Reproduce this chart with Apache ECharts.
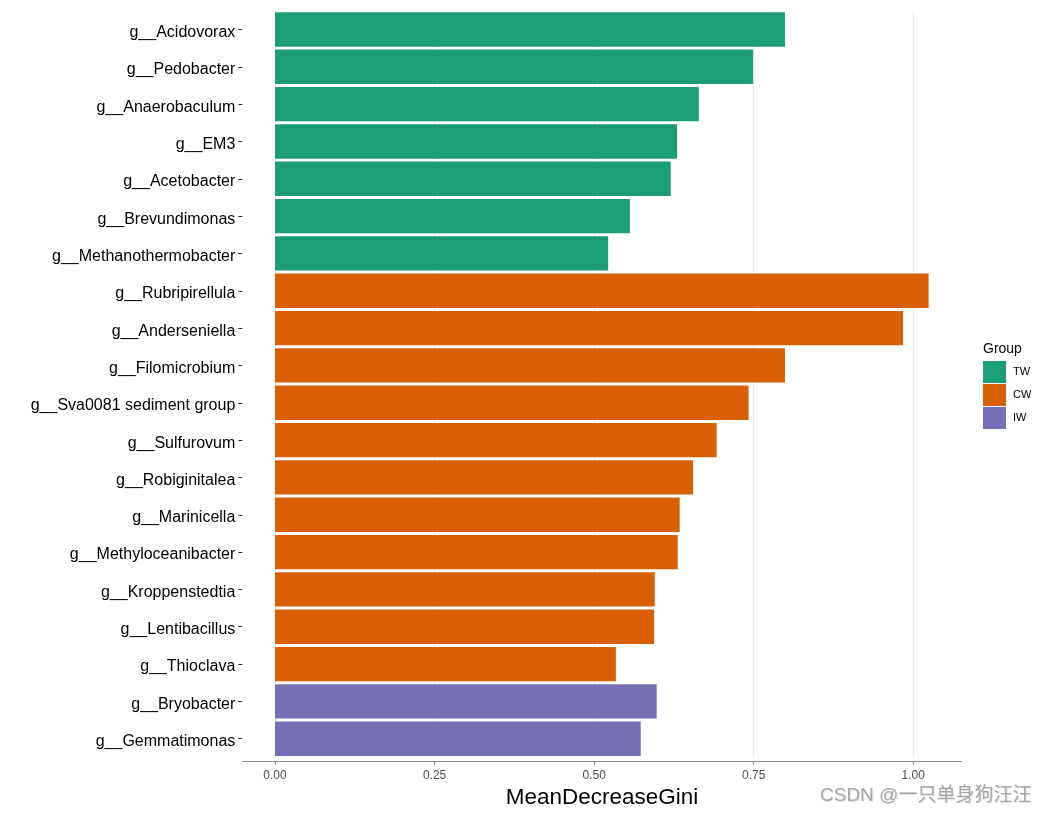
<!DOCTYPE html>
<html>
<head>
<meta charset="utf-8">
<script src="https://cdn.jsdelivr.net/npm/echarts@6/dist/echarts.min.js"></script>
<style>html,body{margin:0;padding:0;background:#fff}#c{width:1048px;height:814px}</style>
</head>
<body>
<div id="c"></div>
<script>
const categories = ["g__Acidovorax","g__Pedobacter","g__Anaerobaculum","g__EM3","g__Acetobacter","g__Brevundimonas","g__Methanothermobacter","g__Rubripirellula","g__Anderseniella","g__Filomicrobium","g__Sva0081 sediment group","g__Sulfurovum","g__Robiginitalea","g__Marinicella","g__Methyloceanibacter","g__Kroppenstedtia","g__Lentibacillus","g__Thioclava","g__Bryobacter","g__Gemmatimonas"];
const groups = ["TW","TW","TW","TW","TW","TW","TW","CW","CW","CW","CW","CW","CW","CW","CW","CW","CW","CW","IW","IW"];
const values = [0.799,0.749,0.664,0.630,0.620,0.556,0.522,1.024,0.984,0.799,0.742,0.692,0.655,0.634,0.631,0.595,0.594,0.534,0.598,0.573];
const groupNames = ["TW","CW","IW"];
const groupColors = ["#1B9E77","#D95F02","#7570B3"];
const xTicks = [0, 0.25, 0.5, 0.75, 1.0];

const FONT = 'Liberation Sans, Arial, sans-serif';
const chart = echarts.init(document.getElementById('c'));
const series = groupNames.map((g, gi) => ({
  name: g,
  type: 'bar',
  stack: 'all',
  barWidth: '92%',
  itemStyle: { color: groupColors[gi] },
  data: values.map((v, i) => groups[i] === g ? v : null)
}));
chart.setOption({
  animation: false,
  backgroundColor: '#fff',
  grid: { left: 242.3, right: 86.4, top: 10.8, height: 746.6, containLabel: false, outerBoundsMode: 'none' },
  legend: {
    data: groupNames,
    orient: 'vertical',
    left: 983, top: 361,
    icon: 'rect',
    itemWidth: 23, itemHeight: 22, itemGap: 1,
    padding: 0,
    textStyle: { fontSize: 11, color: '#000', fontFamily: FONT, padding: [0, 0, 0, 2] }
  },
  xAxis: {
    type: 'value',
    min: -0.0512, max: 1.0757,
    offset: 4,
    name: 'MeanDecreaseGini',
    nameLocation: 'middle',
    nameGap: 24,
    nameTextStyle: { fontSize: 22.5, color: '#000', fontFamily: FONT },
    axisLine: { show: true, onZero: false, lineStyle: { color: '#8a8a8a', width: 1 } },
    axisTick: { show: true, length: 3, lineStyle: { color: '#8a8a8a' }, customValues: xTicks },
    axisLabel: { customValues: xTicks, fontSize: 12, color: '#4d4d4d', margin: 8,
      fontFamily: FONT,
      formatter: v => v.toFixed(2) },
    splitLine: { show: true, lineStyle: { color: '#ebebeb', width: 1 } }
  },
  yAxis: {
    type: 'category',
    data: categories,
    inverse: true,
    axisLine: { show: false, onZero: false },
    axisTick: { show: true, length: 4, alignWithLabel: true, lineStyle: { color: '#333' } },
    axisLabel: { fontSize: 16, color: '#000', margin: 7, fontFamily: FONT, verticalAlign: 'top', lineHeight: 6 },
    splitLine: { show: false }
  },
  graphic: [
    { type: 'text', left: 983, top: 342, style: { text: 'Group', fontSize: 14, fill: '#000', fontFamily: FONT } },
    { type: 'text', left: 820, top: 786, style: { text: 'CSDN @一只单身狗汪汪', fontSize: 19, fill: '#a6a6a6', fontFamily: 'Liberation Sans, Noto Sans CJK SC, sans-serif', textShadowColor: 'rgba(0,0,0,0.12)', textShadowBlur: 1, textShadowOffsetX: 1, textShadowOffsetY: 1 } }
  ],
  series: series
});
</script>
</body>
</html>
